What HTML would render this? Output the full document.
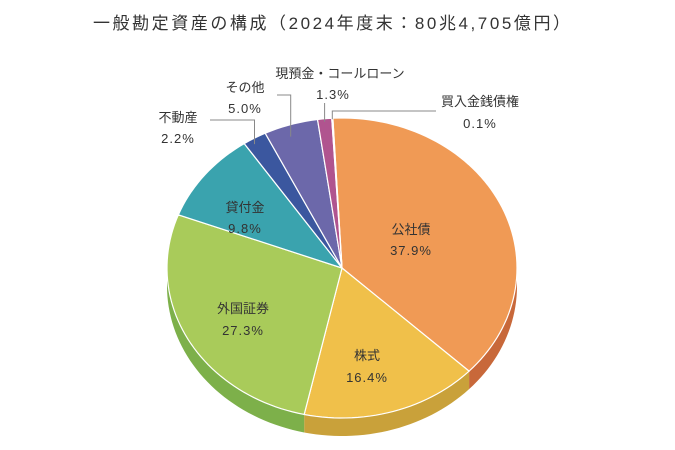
<!DOCTYPE html>
<html><head><meta charset="utf-8"><style>
body{margin:0;background:#fff}
svg{display:block;font-family:"Liberation Sans","Noto Sans CJK JP",sans-serif}
</style></head><body>
<svg id="chart" width="675" height="450" viewBox="0 0 675 450">
<rect width="675" height="450" fill="#fff"/>
<text x="93" y="29" font-size="17" fill="#333" textLength="477" lengthAdjust="spacing">一般勘定資産の構成（2024年度末：80兆4,705億円）</text>
<g id="sides"></g><g id="tops"></g><g id="leaders" stroke="#888" stroke-width="1" fill="none"></g><g id="labels" font-size="13" fill="#333" text-anchor="middle"></g>
</svg>
<script>
const categories=["公社債","株式","外国証券","貸付金","不動産","その他","現預金・コールローン","買入金銭債権"];
const values=[37.9,16.4,27.3,9.8,2.2,5.0,1.3,0.1];
const valueLabels=["37.9%","16.4%","27.3%","9.8%","2.2%","5.0%","1.3%","0.1%"];
const colors=["#F09A55","#F0C04A","#A9CB5A","#3AA3AE","#3B579F","#6C68AA","#B0548F","#E8D8C8"];
const sideColors=["#C8683A","#C9A13A","#7DB04A","#2A8590","#2B4080","#50508A","#8A3A70","#C0B0A0"];
const cx=342,cy=268,rx=175,ry=150,depth=18,start=-3;
const NS="http://www.w3.org/2000/svg";
function pt(a,dy){const r=a*Math.PI/180;return [cx+rx*Math.sin(r),cy-ry*Math.cos(r)+(dy||0)];}
function arc(a0,a1,dy){let s="";const n=Math.max(2,Math.ceil(Math.abs(a1-a0)/2));for(let i=0;i<=n;i++){const p=pt(a0+(a1-a0)*i/n,dy);s+=(i?" L":"")+p[0].toFixed(2)+","+p[1].toFixed(2);}return s;}
const total=values.reduce((a,b)=>a+b,0);
const sides=document.getElementById("sides"),tops=document.getElementById("tops"),labels=document.getElementById("labels"),leaders=document.getElementById("leaders");
let a=start;const mids=[];
values.forEach((v,i)=>{
 const a0=a,a1=a+v/total*360;a=a1;mids.push((a0+a1)/2);
 const s0=Math.max(a0,90),s1=Math.min(a1,270);
 if(s1>s0){const p=document.createElementNS(NS,"path");
  const d="M"+arc(s0,s1,0)+" L"+arc(s1,s0,depth)+" Z";
  p.setAttribute("d",d);p.setAttribute("fill",sideColors[i]);
  
  
  sides.appendChild(p);}
 const t=document.createElementNS(NS,"path");
 t.setAttribute("d","M"+cx+","+cy+" L"+arc(a0,a1,0)+" Z");
 t.setAttribute("fill",colors[i]);t.setAttribute("stroke","#fff");t.setAttribute("stroke-width","1.2");
 
 
 tops.appendChild(t);
});
const labelPos=[[411,229],[367,355],[243,308],[245,207],[178,117],[245,87],[340,73],[480,101]];
const valPos=[[411,250],[367,377],[243,330],[245,228],[178,138],[245,108],[333,94],[480,123]];
categories.forEach((c,i)=>{
 const t1=document.createElementNS(NS,"text");t1.setAttribute("x",labelPos[i][0]);t1.setAttribute("y",labelPos[i][1]+5);t1.textContent=c;
 
 
 labels.appendChild(t1);
 const t2=document.createElementNS(NS,"text");t2.setAttribute("x",valPos[i][0]);t2.setAttribute("y",valPos[i][1]+5);t2.textContent=valueLabels[i];t2.setAttribute("letter-spacing","1");
 
 
 labels.appendChild(t2);
});
const leaderKeys=[4,5,6,7];
leaderKeys.forEach(k=>{
 const p=pt(mids[k],0);let d;
 if(k==5)d="M277,95 L"+p[0].toFixed(1)+",95 L"+p[0].toFixed(1)+","+(p[1]+12).toFixed(1);
 if(k==4)d="M210,120 L"+p[0].toFixed(1)+",120 L"+p[0].toFixed(1)+","+(p[1]+6).toFixed(1);
 if(k==6)d="M"+p[0].toFixed(1)+",103 L"+p[0].toFixed(1)+","+(p[1]+3).toFixed(1);
 if(k==7)d="M436,111 L"+p[0].toFixed(1)+",111 L"+p[0].toFixed(1)+","+(p[1]+1).toFixed(1);
 const l=document.createElementNS(NS,"path");l.setAttribute("d",d);
 
 
 leaders.appendChild(l);
});
</script>
</body></html>
